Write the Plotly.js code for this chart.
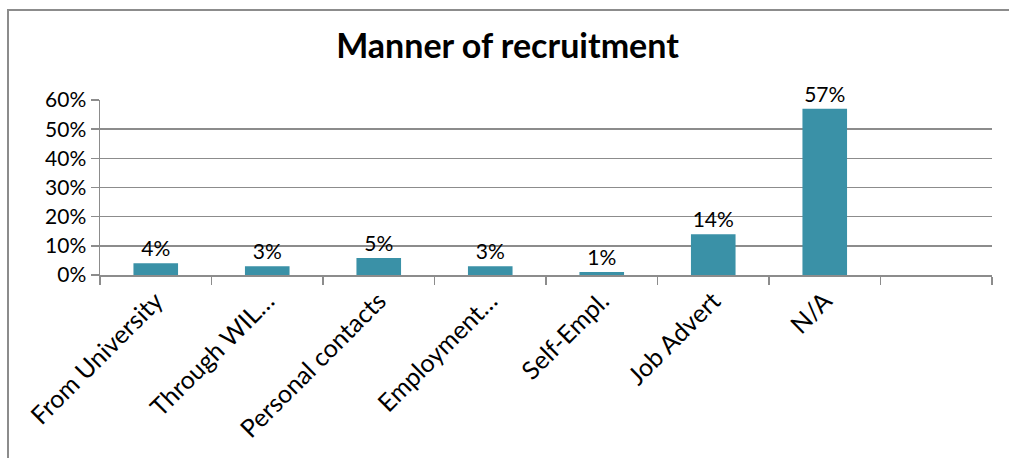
<!DOCTYPE html>
<html>
<head>
<meta charset="utf-8">
<script src="https://cdn.plot.ly/plotly-3.0.1.min.js"></script>
<style>
  html, body { margin: 0; padding: 0; background: #fff; }
  #wrap { position: relative; width: 1009px; height: 458px; overflow: hidden; }
  #frame { position: absolute; left: 7px; top: 9px; width: 1100px; height: 600px;
           border-left: 2px solid #8c8c8c; border-top: 2px solid #8c8c8c; pointer-events: none; }
  #chart { position: absolute; left: 0; top: 0; width: 1009px; height: 458px; }
</style>
</head>
<body>
<div id="wrap">
  <div id="chart"></div>
  <div id="frame"></div>
</div>
<script>
const categories = ['From University', 'Through WIL…', 'Personal contacts', 'Employment…', 'Self-Empl.', 'Job Advert', 'N/A', ' '];
const values = [0.04, 0.03, 0.058, 0.03, 0.01, 0.14, 0.57, null];
const labels = ['4%', '3%', '5%', '3%', '1%', '14%', '57%', ''];
const yTicks = [0, 0.1, 0.2, 0.3, 0.4, 0.5, 0.6];
const yTickText = ['0%', '10%', '20%', '30%', '40%', '50%', '60%'];

const FONT = 'Lato, "Open Sans", sans-serif';

Plotly.newPlot('chart', [{
  type: 'bar',
  x: categories,
  y: values,
  text: labels,
  textposition: 'outside',
  cliponaxis: false,
  textfont: { family: FONT, size: 21, color: '#000' },
  marker: { color: '#3a91a7' },
  hoverinfo: 'none'
}], {
  width: 1009,
  height: 458,
  margin: { l: 100, r: 17, t: 100, b: 183 },
  paper_bgcolor: 'rgba(0,0,0,0)',
  plot_bgcolor: '#fff',
  bargap: 0.6,
  showlegend: false,
  title: {
    text: '<b>Manner of recruitment</b>',
    font: { family: FONT, size: 34, color: '#000' },
    x: 0.503, xanchor: 'center', xref: 'container',
    y: 0.9, yref: 'container', yanchor: 'middle'
  },
  xaxis: {
    type: 'category',
    categoryorder: 'array',
    categoryarray: categories,
    range: [-0.5, 7.5],
    tickson: 'boundaries',
    ticks: 'outside',
    ticklen: 8,
    tickwidth: 1.5,
    tickcolor: '#8c8c8c',
    showline: true,
    linecolor: '#8c8c8c',
    linewidth: 1.5,
    showgrid: false,
    tickangle: -45,
    tickfont: { family: FONT, size: 25, color: '#000' }
  },
  yaxis: {
    range: [0, 0.6],
    tickvals: yTicks,
    ticktext: yTickText,
    ticks: 'outside',
    ticklen: 8,
    tickwidth: 1.5,
    tickcolor: '#8c8c8c',
    showline: true,
    linecolor: '#8c8c8c',
    linewidth: 1.5,
    showgrid: true,
    gridcolor: '#8c8c8c',
    gridwidth: 1.5,
    zeroline: false,
    tickfont: { family: FONT, size: 21, color: '#000' }
  }
}, { displayModeBar: false, staticPlot: true });
</script>
</body>
</html>
